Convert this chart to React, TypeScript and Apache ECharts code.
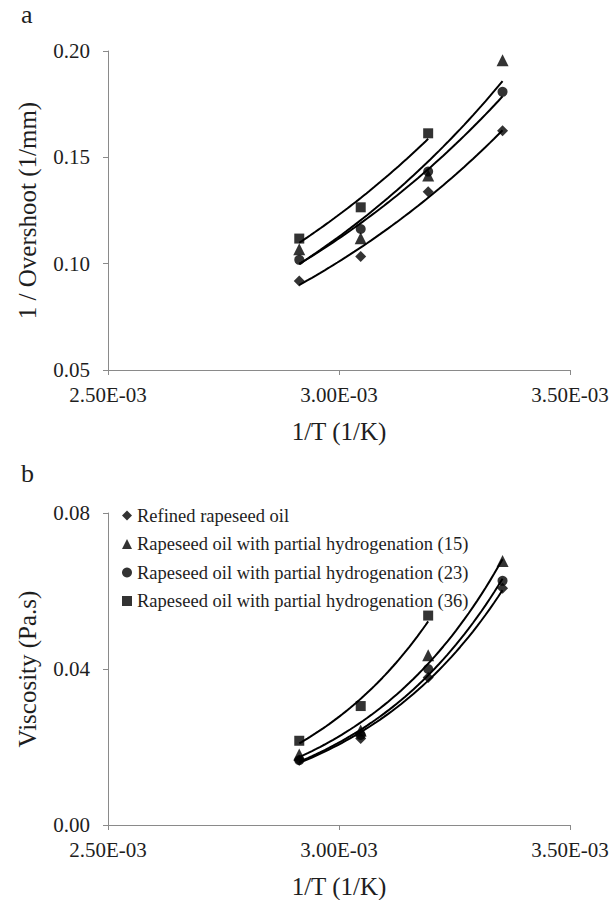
import React, { useEffect, useRef } from "react";
import * as echarts from "echarts";

// 1/T values (1/K) for 70, 55, 40, 25 °C
const invT = [2.914e-3, 3.047e-3, 3.193e-3, 3.354e-3];

const seriesNames = [
  "Refined rapeseed oil",
  "Rapeseed oil with partial hydrogenation (15)",
  "Rapeseed oil with partial hydrogenation (23)",
  "Rapeseed oil with partial hydrogenation (36)",
];
const seriesSymbols = ["diamond", "triangle", "circle", "rect"];
const symbolSizes = [11, 12, 10, 10];

// Panel a: 1 / Overshoot (1/mm)
const overshootRefined = [0.0918, 0.1034, 0.1338, 0.1625];
const overshootH15 = [0.1068, 0.112, 0.1414, 0.1956];
const overshootH23 = [0.1018, 0.1163, 0.1433, 0.1808];
const overshootH36 = [0.1118, 0.1265, 0.1613];

// Panel b: Viscosity (Pa.s)
const viscRefined = [0.0166, 0.0222, 0.0378, 0.0607];
const viscH15 = [0.0181, 0.0242, 0.0435, 0.0677];
const viscH23 = [0.0166, 0.0231, 0.04, 0.0626];
const viscH36 = [0.0216, 0.0305, 0.0537];

const xTickLabels = ["2.50E-03", "3.00E-03", "3.50E-03"];
const overshootTickLabels = ["0.05", "0.10", "0.15", "0.20"];
const viscTickLabels = ["0.00", "0.04", "0.08"];

const FONT = "'Liberation Serif', 'Times New Roman', serif";
const AXIS_COLOR = "#8a8a8a";
const TEXT_COLOR = "#1e1e1e";

// Excel-style exponential trendline (least squares on ln y), drawn from first to last x
function expTrend(xs: number[], ys: number[]): number[][] {
  const n = ys.length;
  const x = xs.slice(0, n);
  const ly = ys.map((v) => Math.log(v));
  const mx = x.reduce((s, v) => s + v, 0) / n;
  const my = ly.reduce((s, v) => s + v, 0) / n;
  let sxy = 0;
  let sxx = 0;
  for (let i = 0; i < n; i++) {
    sxy += (x[i] - mx) * (ly[i] - my);
    sxx += (x[i] - mx) * (x[i] - mx);
  }
  const b = sxy / sxx;
  const a = my - b * mx;
  const pts: number[][] = [];
  const steps = 48;
  for (let i = 0; i <= steps; i++) {
    const xv = x[0] + ((x[n - 1] - x[0]) * i) / steps;
    pts.push([xv, Math.exp(a + b * xv)]);
  }
  return pts;
}

export default function App() {
  const ref = useRef<HTMLDivElement>(null);

  useEffect(() => {
    if (!ref.current) return;
    const chart = echarts.init(ref.current, undefined, { renderer: "svg" });

    const panels = [
      [overshootRefined, overshootH15, overshootH23, overshootH36],
      [viscRefined, viscH15, viscH23, viscH36],
    ];

    const series: any[] = [];
    panels.forEach((panel, gi) => {
      panel.forEach((ys, si) => {
        series.push({
          name: "trend-" + gi + "-" + si,
          type: "line",
          xAxisIndex: gi,
          yAxisIndex: gi,
          data: expTrend(invT, ys),
          showSymbol: false,
          symbol: "none",
          smooth: false,
          lineStyle: { color: "#000", width: 2 },
          z: 2,
          silent: true,
        });
      });
      panel.forEach((ys, si) => {
        series.push({
          name: seriesNames[si],
          type: "scatter",
          xAxisIndex: gi,
          yAxisIndex: gi,
          symbol: seriesSymbols[si],
          symbolSize: symbolSizes[si],
          itemStyle: { color: "#000" },
          data: ys.map((v, i) => [invT[i], v]),
          z: 3,
        });
      });
    });

    const lineStyle = { color: AXIS_COLOR, width: 1 };

    const xAxisBase = (gi: number) => ({
      type: "value",
      gridIndex: gi,
      min: 0.0025,
      max: 0.0035,
      interval: 0.0005,
      axisLine: { show: true, onZero: false, lineStyle },
      axisTick: { show: true, length: 5, lineStyle },
      splitLine: { show: false },
      axisLabel: {
        formatter: (v: number) => xTickLabels[Math.round((v - 0.0025) / 0.0005)] ?? "",
        fontFamily: FONT,
        fontSize: 21,
        color: TEXT_COLOR,
        margin: 14,
      },
      name: "1/T (1/K)",
      nameLocation: "middle",
      nameGap: 49,
      nameTextStyle: { fontFamily: FONT, fontSize: 25, color: TEXT_COLOR },
    });

    const yAxisBase = (gi: number, min: number, max: number, interval: number, labels: string[], name: string) => ({
      type: "value",
      gridIndex: gi,
      min,
      max,
      interval,
      axisLine: { show: true, onZero: false, lineStyle },
      axisTick: { show: true, length: 5, lineStyle },
      splitLine: { show: false },
      axisLabel: {
        formatter: (v: number) => labels[Math.round((v - min) / interval)] ?? "",
        fontFamily: FONT,
        fontSize: 21,
        color: TEXT_COLOR,
        margin: 18,
      },
      name,
      nameLocation: "middle",
      nameGap: 68,
      nameTextStyle: { fontFamily: FONT, fontSize: 25, color: TEXT_COLOR },
    });

    const option: any = {
      animation: false,
      backgroundColor: "#fff",
      grid: [
        { left: 108, width: 462, top: 51, height: 319 },
        { left: 108, width: 462, top: 513, height: 317 },
      ],
      xAxis: [xAxisBase(0), xAxisBase(1)],
      yAxis: [
        yAxisBase(0, 0.05, 0.2, 0.05, overshootTickLabels, "1 / Overshoot (1/mm)"),
        yAxisBase(1, 0, 0.08, 0.04, viscTickLabels, "Viscosity (Pa.s)"),
      ],
      legend: {
        data: seriesNames,
        orient: "vertical",
        left: 117,
        top: 501,
        itemWidth: 10,
        itemHeight: 10,
        itemGap: 9.5,
        textStyle: { fontFamily: FONT, fontSize: 18.5, color: TEXT_COLOR },
        selectedMode: false,
      },
      graphic: [
        {
          type: "text",
          left: 21,
          top: 1,
          style: { text: "a", font: "26px " + FONT, fill: TEXT_COLOR },
        },
        {
          type: "text",
          left: 21,
          top: 460,
          style: { text: "b", font: "26px " + FONT, fill: TEXT_COLOR },
        },
      ],
      series,
    };

    chart.setOption(option);
    return () => chart.dispose();
  }, []);

  return (
    <div
      ref={ref}
      style={{ position: "absolute", left: 0, top: 0, width: 613, height: 900, background: "#fff" }}
    />
  );
}
